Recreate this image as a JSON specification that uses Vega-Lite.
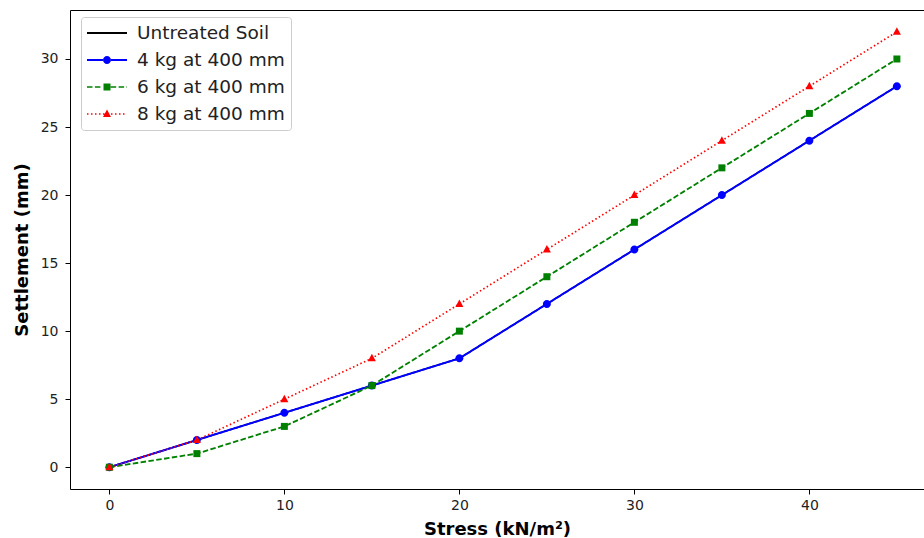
{
  "$schema": "https://vega.github.io/schema/vega-lite/v6.json",
  "width": 854,
  "height": 479,
  "autosize": {"type": "none"},
  "padding": {"left": 70, "top": 10, "right": 0, "bottom": 49},
  "background": "white",
  "config": {
    "font": "DejaVu Sans",
    "view": {"stroke": "black", "strokeWidth": 1},
    "axis": {
      "grid": false, "domain": false, "tickColor": "black", "tickSize": 5, "tickWidth": 1,
      "labelFont": "DejaVu Sans", "labelFontSize": 14, "labelColor": "#222222",
      "titleFont": "DejaVu Sans", "titleFontSize": 18, "titleFontWeight": "bold", "titleColor": "black"
    }
  },
  "data": {"values": [
    {"stress": 0, "settlement": 0, "series": "Untreated Soil"},
    {"stress": 5, "settlement": 2, "series": "Untreated Soil"},
    {"stress": 10, "settlement": 4, "series": "Untreated Soil"},
    {"stress": 15, "settlement": 6, "series": "Untreated Soil"},
    {"stress": 20, "settlement": 8, "series": "Untreated Soil"},
    {"stress": 25, "settlement": 12, "series": "Untreated Soil"},
    {"stress": 30, "settlement": 16, "series": "Untreated Soil"},
    {"stress": 35, "settlement": 20, "series": "Untreated Soil"},
    {"stress": 40, "settlement": 24, "series": "Untreated Soil"},
    {"stress": 45, "settlement": 28, "series": "Untreated Soil"},
    {"stress": 0, "settlement": 0, "series": "4 kg at 400 mm"},
    {"stress": 5, "settlement": 2, "series": "4 kg at 400 mm"},
    {"stress": 10, "settlement": 4, "series": "4 kg at 400 mm"},
    {"stress": 15, "settlement": 6, "series": "4 kg at 400 mm"},
    {"stress": 20, "settlement": 8, "series": "4 kg at 400 mm"},
    {"stress": 25, "settlement": 12, "series": "4 kg at 400 mm"},
    {"stress": 30, "settlement": 16, "series": "4 kg at 400 mm"},
    {"stress": 35, "settlement": 20, "series": "4 kg at 400 mm"},
    {"stress": 40, "settlement": 24, "series": "4 kg at 400 mm"},
    {"stress": 45, "settlement": 28, "series": "4 kg at 400 mm"},
    {"stress": 0, "settlement": 0, "series": "6 kg at 400 mm"},
    {"stress": 5, "settlement": 1, "series": "6 kg at 400 mm"},
    {"stress": 10, "settlement": 3, "series": "6 kg at 400 mm"},
    {"stress": 15, "settlement": 6, "series": "6 kg at 400 mm"},
    {"stress": 20, "settlement": 10, "series": "6 kg at 400 mm"},
    {"stress": 25, "settlement": 14, "series": "6 kg at 400 mm"},
    {"stress": 30, "settlement": 18, "series": "6 kg at 400 mm"},
    {"stress": 35, "settlement": 22, "series": "6 kg at 400 mm"},
    {"stress": 40, "settlement": 26, "series": "6 kg at 400 mm"},
    {"stress": 45, "settlement": 30, "series": "6 kg at 400 mm"},
    {"stress": 0, "settlement": 0, "series": "8 kg at 400 mm"},
    {"stress": 5, "settlement": 2, "series": "8 kg at 400 mm"},
    {"stress": 10, "settlement": 5, "series": "8 kg at 400 mm"},
    {"stress": 15, "settlement": 8, "series": "8 kg at 400 mm"},
    {"stress": 20, "settlement": 12, "series": "8 kg at 400 mm"},
    {"stress": 25, "settlement": 16, "series": "8 kg at 400 mm"},
    {"stress": 30, "settlement": 20, "series": "8 kg at 400 mm"},
    {"stress": 35, "settlement": 24, "series": "8 kg at 400 mm"},
    {"stress": 40, "settlement": 28, "series": "8 kg at 400 mm"},
    {"stress": 45, "settlement": 32, "series": "8 kg at 400 mm"}
  ]},
  "encoding": {
    "x": {"field": "stress", "type": "quantitative", "title": "Stress (kN/m²)",
      "scale": {"domain": [-2.25, 46.55], "nice": false, "zero": false},
      "axis": {"values": [0, 10, 20, 30, 40], "labelPadding": 4, "titlePadding": 8}},
    "y": {"field": "settlement", "type": "quantitative", "title": "Settlement (mm)",
      "scale": {"domain": [-1.6, 33.6], "nice": false, "zero": false},
      "axis": {"values": [0, 5, 10, 15, 20, 25, 30], "labelPadding": 7, "titlePadding": 9}}
  },
  "layer": [
    {
      "mark": {"type": "line"},
      "encoding": {
        "stroke": {"field": "series", "type": "nominal", "legend": null,
          "scale": {"range": ["#0000ff", "#008000", "#ff0000", "black"]}},
        "strokeDash": {"field": "series", "type": "nominal", "legend": null,
          "scale": {"range": [[1, 0], [5.5, 2.4], [1.5, 2.5], [1, 0]]}},
        "strokeWidth": {"field": "series", "type": "nominal", "legend": null,
          "scale": {"range": [2, 1.5, 1.5, 2]}}
      }
    },
    {
      "transform": [{"filter": "datum.series === '4 kg at 400 mm'"}],
      "mark": {"type": "point", "filled": true, "opacity": 1, "size": 400, "color": "#0000ff",
        "shape": "M-0.4,0A0.4,0.4,0,1,1,0.4,0A0.4,0.4,0,1,1,-0.4,0Z"}
    },
    {
      "transform": [{"filter": "datum.series === '6 kg at 400 mm'"}],
      "mark": {"type": "point", "filled": true, "opacity": 1, "size": 400, "color": "#008000",
        "shape": "M-0.35,-0.35L0.35,-0.35L0.35,0.35L-0.35,0.35Z"}
    },
    {
      "transform": [{"filter": "datum.series === '8 kg at 400 mm'"}],
      "mark": {"type": "point", "filled": true, "opacity": 1, "size": 400, "color": "#ff0000",
        "shape": "M0,-0.45L0.4,0.3L-0.4,0.3Z"}
    },
    {
      "transform": [{"filter": "false"}],
      "mark": {"type": "point", "filled": true, "opacity": 1, "size": 400},
      "encoding": {
        "color": {"field": "series", "type": "nominal",
          "scale": {"domain": ["Untreated Soil", "4 kg at 400 mm", "6 kg at 400 mm", "8 kg at 400 mm"],
                    "range": ["black", "#0000ff", "#008000", "#ff0000"]},
          "legend": {
            "title": null, "orient": "none", "legendX": 11, "legendY": 7,
            "fillColor": "white", "strokeColor": "#cccccc", "cornerRadius": 3, "padding": 6,
            "labelFont": "DejaVu Sans", "labelFontSize": 18.5, "labelColor": "#222222",
            "symbolSize": 400, "symbolOffset": 10, "labelOffset": 20, "rowPadding": 7,
            "symbolStrokeWidth": 0
          }},
        "shape": {"field": "series", "type": "nominal",
          "scale": {"domain": ["Untreated Soil", "4 kg at 400 mm", "6 kg at 400 mm", "8 kg at 400 mm"],
            "range": [
              "M-2,-0.1H2V0.1H-2Z",
              "M-2,-0.1H-0.4V0.1H-2ZM0.4,-0.1H2V0.1H0.4ZM-0.4,0A0.4,0.4,0,1,1,0.4,0A0.4,0.4,0,1,1,-0.4,0Z",
              "M-2,-0.075H-1.45V0.075H-2ZM-1.21,-0.075H-0.66V0.075H-1.21ZM0.37,-0.075H0.92V0.075H0.37ZM1.16,-0.075H1.71V0.075H1.16ZM1.95,-0.075H2V0.075H1.95ZM-0.35,-0.35L0.35,-0.35L0.35,0.35L-0.35,0.35Z",
              "M-2,-0.075H-1.85V0.075H-2ZM-1.6,-0.075H-1.45V0.075H-1.6ZM-1.2,-0.075H-1.05V0.075H-1.2ZM-0.8,-0.075H-0.65V0.075H-0.8ZM-0.4,-0.075H-0.25V0.075H-0.4ZM0.4,-0.075H0.55V0.075H0.4ZM0.8,-0.075H0.95V0.075H0.8ZM1.2,-0.075H1.35V0.075H1.2ZM1.6,-0.075H1.75V0.075H1.6ZM0,-0.45L0.4,0.3L-0.4,0.3Z"
            ]}}
      }
    }
  ]
}
